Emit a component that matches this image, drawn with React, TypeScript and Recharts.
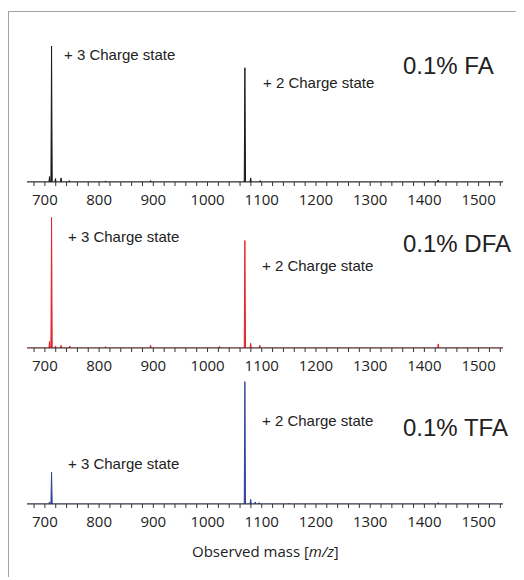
import React from "react";
import { AreaChart, Area, XAxis, YAxis } from "recharts";

// m/z window shown on every panel
const MZ_MIN = 667;
const MZ_MAX = 1545;
const tickValues = [
  680, 700, 720, 740, 760, 780, 800, 820, 840, 860, 880, 900, 920, 940, 960, 980, 1000, 1020, 1040, 1060,
  1080, 1100, 1120, 1140, 1160, 1180, 1200, 1220, 1240, 1260, 1280, 1300, 1320, 1340, 1360, 1380, 1400,
  1420, 1440, 1460, 1480, 1500, 1520, 1540,
];

// [m/z, relative intensity]
const faPeaks: Array<[number, number]> = [
  [708.6, 4], [712.3, 100], [719.5, 2.5], [729.8, 3], [745, 1], [812, 0.8], [895, 1],
  [1068.9, 84], [1079.5, 3], [1097, 1], [1425.5, 1.5],
];
const dfaPeaks: Array<[number, number]> = [
  [708.6, 5], [712.3, 96], [719.5, 1.5], [729.8, 2], [746, 1.5], [812, 1], [895, 2], [1022, 1.2],
  [1068.9, 79], [1079.5, 3.5], [1096.5, 2], [1425.5, 3],
];
const tfaPeaks: Array<[number, number]> = [
  [708.6, 1.5], [712.3, 23.5], [1068.9, 90], [1079.5, 3.5], [1088, 1.5], [1095, 1], [1150, 0.6], [1425.5, 1],
];

const PEAK_HALF_WIDTH = 1.2;

// turn peak list into a stick spectrum on a zero baseline
function toSpectrum(peaks: Array<[number, number]>) {
  const pts: Array<{ mz: number; v: number }> = [{ mz: MZ_MIN, v: 0 }];
  peaks.forEach(([mz, v]) => {
    pts.push({ mz: mz - PEAK_HALF_WIDTH, v: 0 });
    pts.push({ mz, v });
    pts.push({ mz: mz + PEAK_HALF_WIDTH, v: 0 });
  });
  pts.push({ mz: MZ_MAX, v: 0 });
  return pts;
}

const panels = [
  {
    name: "0.1% FA", color: "#1a1a1a", peaks: faPeaks, top: 25,
    z3: { left: 56, top: 36 }, z2: { left: 255, top: 64 }, tag: { left: 395, top: 43 },
  },
  {
    name: "0.1% DFA", color: "#e4262b", peaks: dfaPeaks, top: 191,
    z3: { left: 60, top: 218 }, z2: { left: 254, top: 247 }, tag: { left: 395, top: 221 },
  },
  {
    name: "0.1% TFA", color: "#34449c", peaks: tfaPeaks, top: 347,
    z3: { left: 60, top: 445 }, z2: { left: 254, top: 402 }, tag: { left: 395, top: 405 },
  },
];

const labelStyle: React.CSSProperties = {
  position: "absolute",
  fontFamily: "'Liberation Sans', Arial, sans-serif",
  fontSize: 15,
  lineHeight: "15px",
  color: "#222",
  whiteSpace: "nowrap",
};

const tagStyle: React.CSSProperties = {
  ...labelStyle,
  fontSize: 24,
  lineHeight: "24px",
};

function Panel({ p }: { p: (typeof panels)[number] }) {
  const data = toSpectrum(p.peaks);
  return (
    <div style={{ position: "absolute", left: 0, top: p.top }}>
      <AreaChart width={516} height={176} data={data} margin={{ top: 10, right: 21, left: 19, bottom: 0 }}>
        <XAxis
          dataKey="mz"
          type="number"
          domain={[MZ_MIN, MZ_MAX]}
          allowDataOverflow
          ticks={tickValues}
          interval={0}
          tickFormatter={(v: number) => (v % 100 === 0 ? String(v) : "")}
          height={30}
          tickSize={4}
          tickMargin={8}
          stroke="#333"
          tick={{ fontSize: 15, fill: "#222", fontFamily: "'Open Sans', sans-serif" }}
        />
        <YAxis hide domain={[0, 100]} allowDataOverflow />
        <Area
          type="linear"
          dataKey="v"
          stroke={p.color}
          strokeWidth={1}
          fill={p.color}
          fillOpacity={1}
          isAnimationActive={false}
          dot={false}
          activeDot={false}
        />
      </AreaChart>
    </div>
  );
}

export default function App() {
  return (
    <div style={{ position: "relative", top: 3, width: 516, height: 569 }}>
      <div
        style={{
          position: "absolute", left: 0, top: 0, width: 516, height: 569, boxSizing: "border-box",
          borderTop: "1px solid #a3a3a3", borderLeft: "1px solid #a3a3a3",
        }}
      />
      {panels.map((p) => (
        <Panel key={p.name} p={p} />
      ))}
      {panels.map((p) => (
        <React.Fragment key={p.name + "-labels"}>
          <div style={{ ...labelStyle, left: p.z3.left, top: p.z3.top }}>+ 3 Charge state</div>
          <div style={{ ...labelStyle, left: p.z2.left, top: p.z2.top }}>+ 2 Charge state</div>
          <div style={{ ...tagStyle, left: p.tag.left, top: p.tag.top }}>{p.name}</div>
        </React.Fragment>
      ))}
      <div
        style={{
          position: "absolute", left: 184, top: 533, fontFamily: "'Open Sans', sans-serif", fontSize: 15,
          lineHeight: "15px", color: "#222", whiteSpace: "nowrap",
        }}
      >
        Observed mass [<i>m/z</i>]
      </div>
    </div>
  );
}
